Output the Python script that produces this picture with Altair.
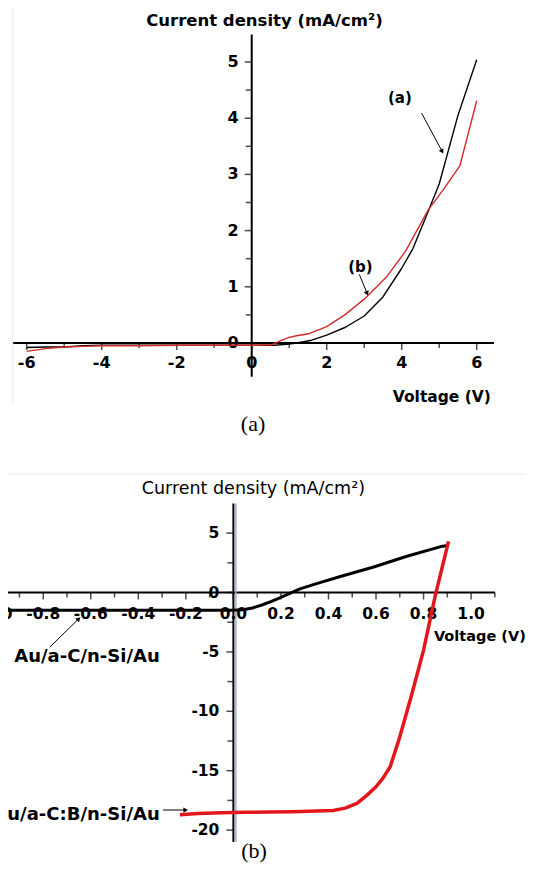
import math
import altair as alt
import pandas as pd

# ---------------- panel (a) data ----------------
a_black_v = [-6.0, -5.5, -5.0, -4.5, -4.0, -3.0, -2.0, -1.0, 0.0, 0.6, 1.0, 1.2, 1.6, 2.0, 2.5, 3.0, 3.5, 4.0, 4.3, 4.7, 5.0, 5.5, 6.0]
a_black_j = [-0.08, -0.07, -0.07, -0.05, -0.04, -0.04, -0.04, -0.04, -0.04, -0.04, -0.02, 0.0, 0.05, 0.14, 0.28, 0.48, 0.82, 1.33, 1.68, 2.33, 2.83, 4.05, 5.04]
a_red_v = [-6.0, -5.5, -5.0, -4.5, -4.0, -3.0, -2.0, -1.0, 0.0, 0.55, 0.8, 1.0, 1.2, 1.55, 2.0, 2.5, 3.0, 3.6, 4.1, 4.7, 5.1, 5.55, 6.0]
a_red_j = [-0.15, -0.10, -0.07, -0.06, -0.05, -0.05, -0.04, -0.04, -0.04, -0.03, 0.05, 0.10, 0.13, 0.17, 0.29, 0.51, 0.78, 1.18, 1.63, 2.36, 2.72, 3.15, 4.31]

a_x_major = [-6, -4, -2, 0, 2, 4, 6]
a_x_minor = [-5, -3, -1, 1, 3, 5]
a_y_major = [0, 1, 2, 3, 4, 5]
a_y_minor = [0.5, 1.5, 2.5, 3.5, 4.5]
a_x_extent = [-6.36, 6.46]
a_y_extent = [-0.6, 5.49]

# ---------------- panel (b) data ----------------
b_black_v = [-1.2, -0.5, 0.0, 0.04, 0.08, 0.12, 0.16, 0.20, 0.24, 0.28, 0.35, 0.45, 0.59, 0.73, 0.88, 0.905]
b_black_j = [-1.5, -1.5, -1.5, -1.45, -1.3, -1.05, -0.75, -0.4, -0.05, 0.3, 0.75, 1.35, 2.15, 3.05, 3.9, 3.95]
b_red_v = [-0.225, -0.15, -0.05, 0.05, 0.15, 0.25, 0.35, 0.42, 0.47, 0.52, 0.56, 0.60, 0.63, 0.66, 0.70, 0.75, 0.80, 0.85, 0.905]
b_red_j = [-18.7, -18.6, -18.55, -18.5, -18.48, -18.45, -18.4, -18.35, -18.15, -17.75, -17.1, -16.35, -15.6, -14.65, -12.15, -8.6, -4.85, -0.2, 4.3]

b_x_major = [-1.0, -0.8, -0.6, -0.4, -0.2, 0.0, 0.2, 0.4, 0.6, 0.8, 1.0]
b_x_minor = [-1.1, -0.9, -0.7, -0.5, -0.3, -0.1, 0.1, 0.3, 0.5, 0.7, 0.9, 1.1]
b_y_major = [5, 0, -5, -10, -15, -20]
b_y_minor = [2.5, -2.5, -7.5, -12.5, -17.5]
b_x_extent = [-1.2, 1.1]
b_y_extent = [-21.0, 7.5]

# annotations (text, voltage, current density)
a_title = ("Current density (mA/cm²)", 0.34, 5.73)
a_xtitle = ("Voltage (V)", 6.38, -0.96)
a_notes = [("(a)", 3.95, 4.36), ("(b)", 2.90, 1.35)]
a_arrows = [(4.53, 4.09, 5.07, 3.42), (2.87, 1.22, 3.07, 0.895)]
a_caption = ("(a)", 0.035, -1.44)

b_title = ("Current density (mA/cm²)", 0.084, 8.75)
b_xtitle = ("Voltage (V)", 1.23, -3.72)
b_notes_center = [("Au/a-C/n-Si/Au", -0.616, -5.43)]
b_notes_right = [("Au/a-C:B/n-Si/Au", -0.31, -18.73)]
b_arrows = [(-0.772, -4.59, -0.653, -2.26), (-0.296, -18.31, -0.204, -18.31)]
b_caption = ("(b)", 0.087, -21.8)

# faint frame lines of the two original figures
a_frame_v = [(-6.37, 6.2, -1.07)]
b_frame_h = [(-1.3, 1.3, 9.97)]

FONT = "DejaVu Sans"
SERIF = "Liberation Serif"

# scales (explicit pixel ranges place both panels on one canvas)
A_DOM_X, A_RNG_X = [-6, 6], [18.7, 468.7]
A_DOM_Y, A_RNG_Y = [0, 5], [335, 54]
B_DOM_X, B_RNG_X = [0, 1], [225.4, 463.1]
B_DOM_Y, B_RNG_Y = [-20, 0], [822.1, 584.5]


def mk_scale(dom, rng):
    return alt.Scale(domain=dom, range=rng, nice=False, zero=False)


def xy(chart, dom_x, rng_x, dom_y, rng_y, xf="v", yf="j"):
    return chart.encode(
        x=alt.X(f"{xf}:Q", scale=mk_scale(dom_x, rng_x), axis=None),
        y=alt.Y(f"{yf}:Q", scale=mk_scale(dom_y, rng_y), axis=None),
    )


def panel(curves, xmaj, xmin_, ymaj, ymin_, xlabels, ylabels, xext, yext,
          dom_x, rng_x, dom_y, rng_y, lab_size, x_lab_dy, y_lab_dx,
          axis_w, title, title_weight, title_size, xtitle, xtitle_size, notes_c, notes_r,
          note_size, arrows, caption, frames_v=(), frames_h=(), extra_axis=False):
    S = dict(dom_x=dom_x, rng_x=rng_x, dom_y=dom_y, rng_y=rng_y)
    L = []
    kx = (rng_x[1] - rng_x[0]) / (dom_x[1] - dom_x[0])
    ky = (rng_y[0] - rng_y[1]) / (dom_y[1] - dom_y[0])
    # faint frame lines
    for (v, j1, j2) in frames_v:
        L.append(xy(alt.Chart(pd.DataFrame({"v": [v], "j": [j1], "j2": [j2]}))
                    .mark_rule(color="#e6e6e6", strokeWidth=1), **S).encode(y2="j2:Q"))
    for (v1, v2, j) in frames_h:
        L.append(xy(alt.Chart(pd.DataFrame({"v": [v1], "v2": [v2], "j": [j]}))
                    .mark_rule(color="#ececec", strokeWidth=1), **S).encode(x2="v2:Q"))
    # axis lines
    df_xa = pd.DataFrame({"v": [xext[0]], "v2": [xext[1]], "j": [0.0]})
    L.append(xy(alt.Chart(df_xa).mark_rule(color="black", strokeWidth=axis_w), **S)
             .encode(x2="v2:Q"))
    df_ya = pd.DataFrame({"v": [0.0], "j": [yext[0]], "j2": [yext[1]]})
    if extra_axis:
        L.append(xy(alt.Chart(df_ya).mark_rule(color="#9fb0cc", strokeWidth=1.5, xOffset=2.5), **S)
                 .encode(y2="j2:Q"))
    L.append(xy(alt.Chart(df_ya).mark_rule(color="black", strokeWidth=axis_w), **S)
             .encode(y2="j2:Q"))
    # ticks
    L.append(xy(alt.Chart(pd.DataFrame({"v": xmaj, "j": [0.0] * len(xmaj)}))
                .mark_tick(orient="vertical", size=7, thickness=1.5, yOffset=3.5, color="black"), **S))
    L.append(xy(alt.Chart(pd.DataFrame({"v": xmin_, "j": [0.0] * len(xmin_)}))
                .mark_tick(orient="vertical", size=5, thickness=1.5, yOffset=2.5, color="black"), **S))
    L.append(xy(alt.Chart(pd.DataFrame({"v": [0.0] * len(ymaj), "j": ymaj}))
                .mark_tick(orient="horizontal", size=7, thickness=1.5, xOffset=-3.5, color="black"), **S))
    L.append(xy(alt.Chart(pd.DataFrame({"v": [0.0] * len(ymin_), "j": ymin_}))
                .mark_tick(orient="horizontal", size=6, thickness=1.5, xOffset=-3, color="black"), **S))
    # tick labels
    L.append(xy(alt.Chart(pd.DataFrame({"v": xmaj, "j": [0.0] * len(xmaj), "t": xlabels}))
                .mark_text(font=FONT, fontWeight="bold", fontSize=lab_size, baseline="middle",
                           align="center", dy=x_lab_dy, color="black"), **S).encode(text="t:N"))
    L.append(xy(alt.Chart(pd.DataFrame({"v": [0.0] * len(ymaj), "j": ymaj, "t": ylabels}))
                .mark_text(font=FONT, fontWeight="bold", fontSize=lab_size, baseline="middle",
                           align="right", dx=y_lab_dx, color="black"), **S).encode(text="t:N"))
    # curves
    for (vv, jj, col, w) in curves:
        L.append(xy(alt.Chart(pd.DataFrame({"v": vv, "j": jj, "o": list(range(len(vv)))}))
                    .mark_line(color=col, strokeWidth=w, strokeJoin="round"), **S)
                 .encode(order="o:Q"))
    # titles
    t, v, j = title
    L.append(xy(alt.Chart(pd.DataFrame({"v": [v], "j": [j], "t": [t]}))
                .mark_text(font=FONT, fontWeight=title_weight, fontSize=title_size,
                           baseline="middle", align="center", color="black"), **S).encode(text="t:N"))
    t, v, j = xtitle
    L.append(xy(alt.Chart(pd.DataFrame({"v": [v], "j": [j], "t": [t]}))
                .mark_text(font=FONT, fontWeight="bold", fontSize=xtitle_size,
                           baseline="middle", align="right", color="black"), **S).encode(text="t:N"))
    for (t, v, j) in notes_c:
        L.append(xy(alt.Chart(pd.DataFrame({"v": [v], "j": [j], "t": [t]}))
                    .mark_text(font=FONT, fontWeight="bold", fontSize=note_size,
                               baseline="middle", align="center", color="black"), **S).encode(text="t:N"))
    for (t, v, j) in notes_r:
        L.append(xy(alt.Chart(pd.DataFrame({"v": [v], "j": [j], "t": [t]}))
                    .mark_text(font=FONT, fontWeight="bold", fontSize=note_size,
                               baseline="middle", align="right", color="black"), **S).encode(text="t:N"))
    # arrows
    for (v1, j1, v2, j2) in arrows:
        L.append(xy(alt.Chart(pd.DataFrame({"v": [v1], "j": [j1], "v2": [v2], "j2": [j2]}))
                    .mark_rule(color="black", strokeWidth=1), **S).encode(x2="v2:Q", y2="j2:Q"))
        dxp = (v2 - v1) * kx
        dyp = -(j2 - j1) * ky
        ang = math.degrees(math.atan2(dxp, -dyp)) % 360
        L.append(xy(alt.Chart(pd.DataFrame({"v": [v2], "j": [j2], "a": [ang]}))
                    .mark_point(shape="triangle", filled=True, size=28, color="black", opacity=1), **S)
                 .encode(angle=alt.Angle("a:Q", scale=None)))
    # caption
    t, v, j = caption
    L.append(xy(alt.Chart(pd.DataFrame({"v": [v], "j": [j], "t": [t]}))
                .mark_text(font=SERIF, fontSize=22, baseline="middle", align="center", color="black"), **S)
             .encode(text="t:N"))
    return L


layers_a = panel(
    curves=[(a_black_v, a_black_j, "black", 1.4), (a_red_v, a_red_j, "#d42a2a", 1.4)],
    xmaj=a_x_major, xmin_=a_x_minor, ymaj=a_y_major, ymin_=a_y_minor,
    xlabels=[str(v) for v in a_x_major], ylabels=[str(v) for v in a_y_major],
    xext=a_x_extent, yext=a_y_extent,
    dom_x=A_DOM_X, rng_x=A_RNG_X, dom_y=A_DOM_Y, rng_y=A_RNG_Y,
    lab_size=16, x_lab_dy=19.5, y_lab_dx=-13, axis_w=2,
    title=a_title, title_weight="bold", title_size=16.5, xtitle=a_xtitle, xtitle_size=15.5,
    notes_c=a_notes, notes_r=[], note_size=15, arrows=a_arrows, caption=a_caption,
    frames_v=a_frame_v,
)

layers_b = panel(
    curves=[(b_black_v, b_black_j, "black", 3), (b_red_v, b_red_j, "#e3161b", 3.5)],
    xmaj=b_x_major, xmin_=b_x_minor, ymaj=b_y_major, ymin_=b_y_minor,
    xlabels=[f"{v:.1f}" for v in b_x_major], ylabels=[str(v) for v in b_y_major],
    xext=b_x_extent, yext=b_y_extent,
    dom_x=B_DOM_X, rng_x=B_RNG_X, dom_y=B_DOM_Y, rng_y=B_RNG_Y,
    lab_size=15.5, x_lab_dy=21.5, y_lab_dx=-14, axis_w=2,
    title=b_title, title_weight="normal", title_size=17.5, xtitle=b_xtitle, xtitle_size=14.5,
    notes_c=b_notes_center, notes_r=b_notes_right, note_size=18, arrows=b_arrows,
    caption=b_caption, frames_h=b_frame_h, extra_axis=True,
)

chart = (
    alt.layer(*(layers_a + layers_b))
    .resolve_scale(x="independent", y="independent")
    .properties(width=518, height=855, autosize=alt.AutoSizeParams(type="none"), padding=0,
                background="white")
    .configure_view(stroke=None)
)

chart.save("out.html", embed_options={"renderer": "svg", "actions": False})
